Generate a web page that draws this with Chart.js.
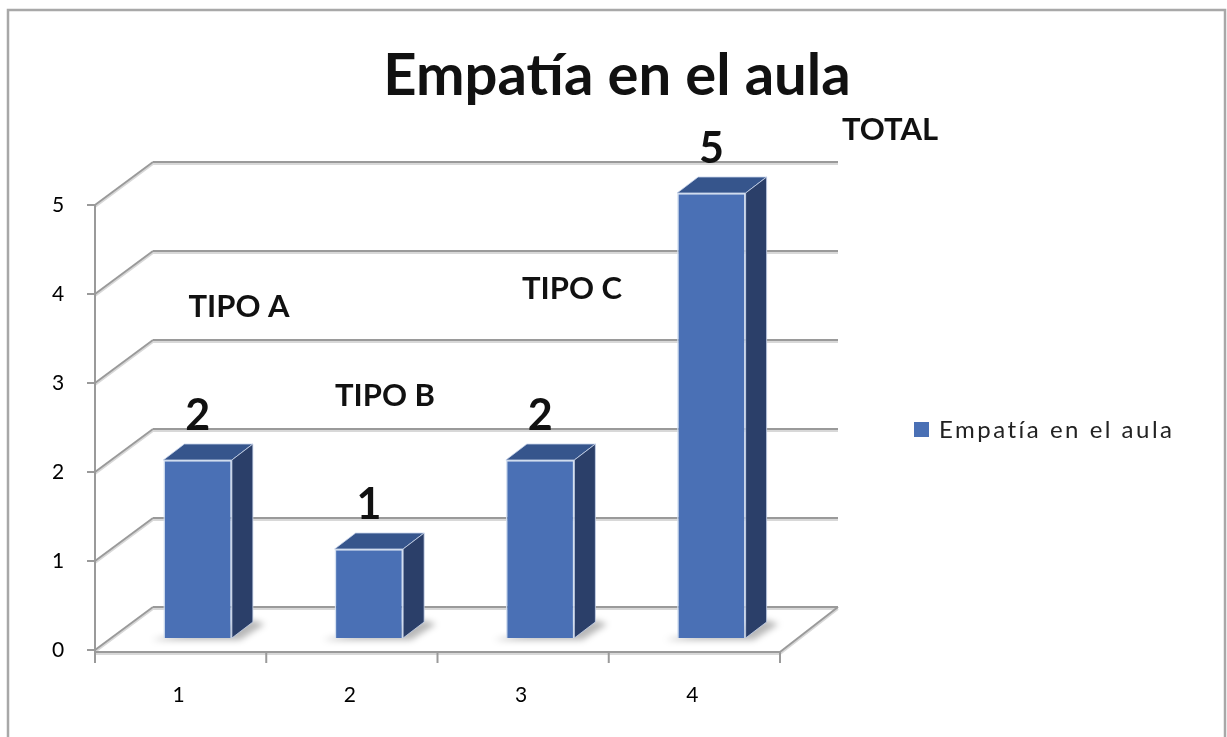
<!DOCTYPE html>
<html>
<head>
<meta charset="utf-8">
<script src="https://cdn.jsdelivr.net/npm/chart.js@4.4.1/dist/chart.umd.min.js"></script>
<style>
  html, body { margin: 0; padding: 0; background: #fff; }
  canvas { display: block; }
</style>
</head>
<body>
<canvas id="empatiaChart" width="1227" height="737"></canvas>
<script>
// datos del gráfico
const categorias = ['1', '2', '3', '4'];
const valores = [2, 1, 2, 5];
const serieNombre = 'Empatía en el aula';
const tituloTexto = 'Empatía en el aula';
const tiposTexto = ['TIPO A', 'TIPO B', 'TIPO C', 'TOTAL'];
const yTicks = [0, 1, 2, 3, 4, 5];

// estilo / posiciones
const FONT = 'Lato, "Open Sans", sans-serif';
const depth = { x: 58, y: -43 };      // pared del fondo
const barShift = { x: 17, y: -12 };   // barras a media profundidad
const barDepth = { x: 21, y: -16 };   // grosor 3D de la barra
const notePos = [[239, 307], [385, 396], [572, 289], [890, 130]];
const gridColor = '#9a9a9a';

const plugin3d = {
    id: 'plugin3d',
    beforeDatasetsDraw(chart) {
        const ctx = chart.ctx;
        const area = chart.chartArea;
        const y = chart.scales.y;
        const x = chart.scales.x;

        // marco
        ctx.save();
        ctx.strokeStyle = '#a8a8a8';
        ctx.lineWidth = 2.5;
        ctx.strokeRect(8, 10, 1217, 760);

        // lineas de division (pared lateral + fondo)
        function line(x1, y1, x2, y2) {
            ctx.strokeStyle = '#d8d8d8';
            ctx.lineWidth = 2;
            ctx.beginPath(); ctx.moveTo(x1, y1 + 2); ctx.lineTo(x2, y2 + 2); ctx.stroke();
            ctx.strokeStyle = gridColor;
            ctx.lineWidth = 2;
            ctx.beginPath(); ctx.moveTo(x1, y1); ctx.lineTo(x2, y2); ctx.stroke();
        }
        yTicks.forEach(v => {
            const py = y.getPixelForValue(v);
            line(area.left, py, area.left + depth.x, py + depth.y);
            line(area.left + depth.x, py + depth.y, area.right + depth.x, py + depth.y);
        });
        // piso
        const py0 = y.getPixelForValue(0);
        line(area.left, py0 + 2, area.right, py0 + 2);
        line(area.right, py0 + 2, area.right + depth.x, py0 + depth.y);
        // eje vertical
        line(area.left, y.getPixelForValue(5), area.left, py0 + 2);

        // marcas eje y
        ctx.strokeStyle = gridColor;
        ctx.lineWidth = 2;
        yTicks.forEach(v => {
            const py = y.getPixelForValue(v);
            ctx.beginPath(); ctx.moveTo(area.left - 8, py); ctx.lineTo(area.left, py); ctx.stroke();
        });
        // marcas eje x
        for (let i = 0; i <= categorias.length; i++) {
            const px = area.left + (area.right - area.left) * i / categorias.length;
            ctx.beginPath(); ctx.moveTo(px, py0 + 2); ctx.lineTo(px, py0 + 13); ctx.stroke();
        }

        // etiquetas ejes
        ctx.fillStyle = '#000';
        ctx.font = '21px ' + FONT;
        ctx.textAlign = 'center';
        ctx.textBaseline = 'middle';
        yTicks.forEach(v => ctx.fillText(String(v), area.left - 37, y.getPixelForValue(v)));
        categorias.forEach((c, i) => ctx.fillText(c, x.getPixelForValue(i) - 2, py0 + 45));

        // sombras en el piso
        const meta = chart.getDatasetMeta(0);
        ctx.filter = 'blur(3px)';
        ctx.fillStyle = 'rgba(0,0,0,0.28)';
        meta.data.forEach(bar => {
            const l = bar.x - bar.width / 2 + barShift.x;
            const r = bar.x + bar.width / 2 + barShift.x;
            const b = bar.base + barShift.y;
            ctx.beginPath();
            ctx.moveTo(l - 12, b + 2);
            ctx.lineTo(r + 8, b + 2);
            ctx.lineTo(r + barDepth.x + 12, b + barDepth.y + 2);
            ctx.lineTo(r + barDepth.x, b + barDepth.y - 2);
            ctx.closePath();
            ctx.fill();
        });
        ctx.filter = 'none';
        ctx.restore();

        ctx.save();
        ctx.translate(barShift.x, barShift.y);
    },
    afterDatasetsDraw(chart) {
        const ctx = chart.ctx;
        const meta = chart.getDatasetMeta(0);
        meta.data.forEach(bar => {
            const l = bar.x - bar.width / 2;
            const r = bar.x + bar.width / 2;
            const t = bar.y;
            const b = bar.base;
            // cara superior
            ctx.fillStyle = '#36558c';
            ctx.strokeStyle = 'rgba(200,212,235,0.8)';
            ctx.lineWidth = 1;
            ctx.beginPath();
            ctx.moveTo(l, t); ctx.lineTo(l + barDepth.x, t + barDepth.y);
            ctx.lineTo(r + barDepth.x, t + barDepth.y); ctx.lineTo(r, t);
            ctx.closePath(); ctx.fill(); ctx.stroke();
            // cara lateral
            ctx.fillStyle = '#2b3f69';
            ctx.beginPath();
            ctx.moveTo(r, t); ctx.lineTo(r + barDepth.x, t + barDepth.y);
            ctx.lineTo(r + barDepth.x, b + barDepth.y); ctx.lineTo(r, b);
            ctx.closePath(); ctx.fill(); ctx.stroke();
        });
        ctx.restore();

        // etiquetas de valor
        ctx.save();
        ctx.fillStyle = '#111';
        ctx.font = 'bold 43px ' + FONT;
        ctx.textAlign = 'center';
        ctx.textBaseline = 'alphabetic';
        meta.data.forEach((bar, i) => {
            ctx.fillText(String(valores[i]), bar.x + barShift.x, bar.y + barShift.y - 30);
        });

        // titulo
        ctx.font = 'bold 58px ' + FONT;
        ctx.textBaseline = 'middle';
        ctx.fillText(tituloTexto, 617, 76);

        // notas TIPO
        ctx.font = 'bold 31px ' + FONT;
        tiposTexto.forEach((t, i) => ctx.fillText(t, notePos[i][0], notePos[i][1]));

        // leyenda
        ctx.fillStyle = '#4a70b5';
        ctx.fillRect(914, 422, 15, 15);
        ctx.fillStyle = '#222';
        ctx.font = '24px ' + FONT;
        ctx.textAlign = 'left';
        ctx.letterSpacing = '2.5px';
        ctx.fillText(serieNombre, 939, 430);
        ctx.restore();
    }
};

new Chart(document.getElementById('empatiaChart').getContext('2d'), {
    type: 'bar',
    data: {
        labels: categorias,
        datasets: [{
            label: serieNombre,
            data: valores,
            backgroundColor: '#4a70b5',
            borderColor: 'rgba(210,222,240,0.9)',
            borderWidth: 1.5,
            barPercentage: 0.4,
            categoryPercentage: 1
        }]
    },
    options: {
        responsive: false,
        animation: false,
        devicePixelRatio: 1,
        layout: {
            padding: { left: 95, right: 447, top: 205, bottom: 87 }
        },
        plugins: {
            legend: { display: false },
            title: { display: false },
            tooltip: { enabled: false }
        },
        scales: {
            x: { display: false },
            y: { display: false, min: 0, max: 5, beginAtZero: true }
        }
    },
    plugins: [plugin3d]
});
</script>
</body>
</html>
